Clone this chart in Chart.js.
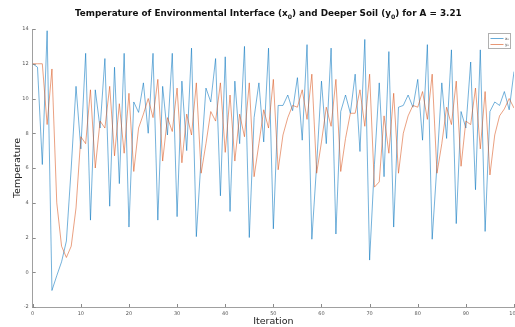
<!DOCTYPE html>
<html>
<head>
<meta charset="utf-8">
<script src="https://cdn.jsdelivr.net/npm/chart.js@4.4.1/dist/chart.umd.min.js"></script>
<style>
  html, body { margin: 0; padding: 0; background: #fff; }
  #wrap { width: 515px; height: 327px; }
</style>
</head>
<body>
<div id="wrap"><canvas id="myChart" width="515" height="327"></canvas></div>
<script>
// values
const x0Values = [
    12, 11.8, 6.2, 13.9, -1.05, -0.2, 0.6, 1.8, 6.0, 10.7,
    7.1, 12.6, 3.0, 10.5, 8.3, 12.3, 3.8, 11.8, 5.1, 12.6,
    2.6, 9.8, 9.2, 10.9, 8.0, 12.6, 3.0, 10.7, 7.9, 12.6,
    3.2, 11.0, 7.0, 12.9, 2.05, 6.6, 10.6, 9.8, 12.3, 4.4,
    12.4, 3.5, 11.0, 7.4, 13.0, 2.0, 8.9, 10.9, 7.5, 12.9,
    2.5, 9.6, 9.6, 10.2, 9.3, 11.2, 7.6, 13.1, 1.9, 6.2,
    11.0, 7.4, 12.9, 2.2, 9.25, 10.2, 9.15, 11.4, 6.95, 13.4,
    0.7, 6.2, 10.9, 5.5, 12.7, 2.6, 9.5, 9.6, 10.2, 9.5,
    11.1, 7.6, 13.1, 1.9, 6.2, 10.9, 7.7, 12.8, 2.8, 9.25,
    8.3, 12.1, 4.75, 12.8, 2.35, 9.25, 9.8, 9.6, 10.4, 9.35,
    11.55
];
const y0Values = [
    12, 12, 12, 8.5, 11.7, 4.0, 1.5, 0.85, 1.5, 3.7,
    7.8, 7.4, 10.5, 6.0, 8.7, 8.3, 10.7, 6.7, 9.7, 6.85,
    10.3, 5.8, 8.3, 9.1, 10.0, 8.9, 11.1, 6.4, 8.9, 8.1,
    10.6, 6.3, 9.1, 7.9, 10.9, 5.7, 7.4, 9.25, 8.7, 10.9,
    6.9, 10.2, 6.4, 9.1, 7.8, 10.9, 5.5, 7.4, 9.35, 8.3,
    11.1, 5.9, 7.9, 8.9, 9.6, 9.5, 10.5, 8.8, 11.4, 5.7,
    7.5, 9.5, 8.4, 11.1, 5.8, 7.7, 9.15, 9.15, 10.5, 8.4,
    11.4, 4.9, 5.2, 9.0, 6.85, 10.3, 5.7, 8.0, 9.0, 9.6,
    9.5, 10.4, 8.8, 11.4, 5.7, 7.4, 9.5, 8.5, 11.0, 6.1,
    8.7, 8.5, 10.6, 7.1, 10.4, 5.6, 7.9, 9.0, 9.4, 10.0,
    9.45
];
const iterations = x0Values.map((_, i) => i);
const xTicks = [0, 10, 20, 30, 40, 50, 60, 70, 80, 90, 100];
const yTicks = [-2, 0, 2, 4, 6, 8, 10, 12, 14];

const titleParts = [
    ["Temperature of Environmental Interface (x", false],
    ["0", true],
    [") and Deeper Soil (y", false],
    ["0", true],
    [") for A = 3.21", false],
];
const legendLabels = ["x", "y"];

const blue = "#0072BD";
const orange = "#D95319";

// title with real subscripts, inward tick marks and a small boxed legend
const decorations = {
    id: "decorations",
    afterDraw(chart) {
        const c = chart.ctx;
        const area = chart.chartArea;

        // inward ticks like the original figure
        c.save();
        c.strokeStyle = "#8a8a8a";
        c.lineWidth = 1;
        const xs = chart.scales.x, ys = chart.scales.y;
        xTicks.forEach((t) => {
            const px = Math.round(xs.getPixelForValue(t)) + 0.5;
            c.beginPath();
            c.moveTo(px, area.bottom);
            c.lineTo(px, area.bottom - 3);
            c.stroke();
        });
        yTicks.forEach((t) => {
            const py = Math.round(ys.getPixelForValue(t)) + 0.5;
            c.beginPath();
            c.moveTo(area.left, py);
            c.lineTo(area.left + 3, py);
            c.stroke();
        });
        c.restore();

        // title
        c.save();
        let total = 0;
        titleParts.forEach(([txt, sub]) => {
            c.font = sub ? 'bold 7px "DejaVu Sans"' : 'bold 10px "DejaVu Sans"';
            total += c.measureText(txt).width;
        });
        const scale = 387 / total;
        let x = 268.5 - 387 / 2;
        const base = 16;
        c.fillStyle = "#111";
        c.textBaseline = "alphabetic";
        titleParts.forEach(([txt, sub]) => {
            const size = (sub ? 7 : 10) * scale;
            c.font = 'bold ' + size.toFixed(2) + 'px "DejaVu Sans"';
            c.fillText(txt, x, sub ? base + 2.5 : base);
            x += c.measureText(txt).width;
        });
        c.restore();

        // legend
        c.save();
        const lx = 488.5, ly = 33.5, lw = 22, lh = 15;
        c.fillStyle = "#fff";
        c.fillRect(lx, ly, lw, lh);
        c.strokeStyle = "#b0b0b0";
        c.lineWidth = 1;
        c.strokeRect(lx, ly, lw, lh);
        [[blue, 38.5], [orange, 44.5]].forEach(([col, yy], k) => {
            c.strokeStyle = col;
            c.lineWidth = 0.6;
            c.beginPath();
            c.moveTo(lx + 2, yy);
            c.lineTo(lx + 15, yy);
            c.stroke();
            c.fillStyle = "#444";
            c.font = '4px "DejaVu Sans"';
            c.textBaseline = "middle";
            c.fillText(legendLabels[k], lx + 16.5, yy);
            c.font = '2.5px "DejaVu Sans"';
            c.fillText("0", lx + 18.8, yy + 1.2);
        });
        c.restore();
    }
};

const ctx = document.getElementById("myChart").getContext("2d");
const myChart = new Chart(ctx, {
    type: "line",
    data: {
        datasets: [
            {
                label: "x0",
                data: iterations.map((i) => ({ x: i, y: x0Values[i] })),
                borderColor: blue,
                borderWidth: 0.55,
                pointRadius: 0,
                tension: 0,
                fill: false,
                order: 1,
            },
            {
                label: "y0",
                data: iterations.map((i) => ({ x: i, y: y0Values[i] })),
                borderColor: orange,
                borderWidth: 0.55,
                pointRadius: 0,
                tension: 0,
                fill: false,
                order: 0,
            },
        ],
    },
    options: {
        responsive: false,
        animation: false,
        events: [],
        layout: {
            padding: { top: 29, right: 1, bottom: 0, left: 0 },
        },
        plugins: {
            legend: { display: false },
            title: { display: false },
            tooltip: { enabled: false },
        },
        scales: {
            x: {
                type: "linear",
                min: 0,
                max: 100,
                afterFit: (scale) => {
                    scale.height = 20;
                    scale.paddingLeft = 0;
                    scale.paddingRight = 0;
                },
                afterBuildTicks: (scale) => { scale.ticks = xTicks.map((v) => ({ value: v })); },
                grid: { display: false, drawTicks: false },
                border: { display: true, color: "#a0a0a0", width: 1 },
                ticks: {
                    font: { family: "DejaVu Sans", size: 5 },
                    color: "#555",
                    padding: 4,
                    maxRotation: 0,
                },
                title: {
                    display: true,
                    text: "Iteration",
                    font: { family: "DejaVu Sans", size: 9.5 },
                    color: "#222",
                    padding: { top: 0, bottom: 0 },
                },
            },
            y: {
                min: -2,
                max: 14,
                afterFit: (scale) => {
                    scale.width = 32.7;
                    scale.paddingTop = 0;
                    scale.paddingBottom = 0;
                },
                afterBuildTicks: (scale) => { scale.ticks = yTicks.map((v) => ({ value: v })); },
                grid: { display: false, drawTicks: false },
                border: { display: true, color: "#a0a0a0", width: 1 },
                ticks: {
                    font: { family: "DejaVu Sans", size: 5 },
                    color: "#555",
                    padding: 4,
                },
                title: {
                    display: true,
                    text: "Temperature",
                    font: { family: "DejaVu Sans", size: 9.5 },
                    color: "#222",
                    padding: { top: 12, bottom: 0 },
                },
            },
        },
    },
    plugins: [decorations],
});
</script>
</body>
</html>
